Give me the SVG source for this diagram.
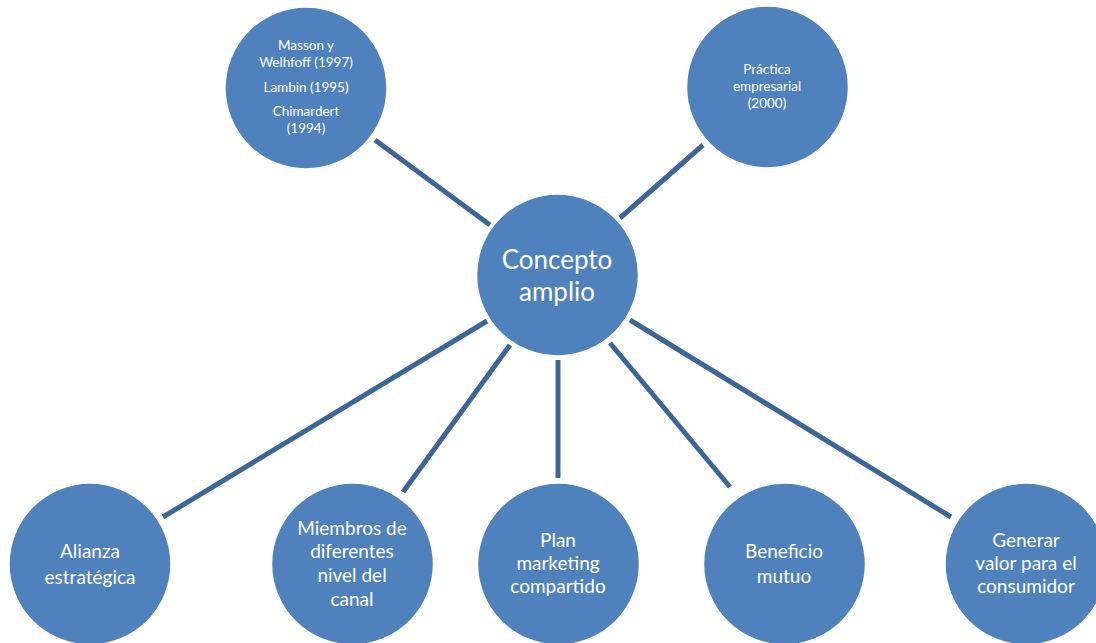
<svg xmlns="http://www.w3.org/2000/svg" width="1096" height="643" viewBox="0 0 1096 643">
<style>
.n{fill:#4f81bd;stroke:#ffffff;stroke-width:1.5}
.c line{stroke:#3d6596;stroke-width:5}
text{font-family:Lato,"Open Sans","Liberation Sans",sans-serif;fill:#ffffff;text-anchor:middle}
.s{font-size:13.5px}
.m{font-size:19px}
.l{font-size:26px}
</style>
<rect width="1096" height="643" fill="#ffffff"/>
<g class="c" id="connectors">
<line x1="375" y1="140" x2="490" y2="225"/>
<line x1="703" y1="145" x2="620" y2="218"/>
<line x1="163" y1="517" x2="487" y2="321"/>
<line x1="403" y1="492" x2="510" y2="345"/>
<line x1="558" y1="478" x2="558" y2="360"/>
<line x1="730" y1="487" x2="610" y2="343"/>
<line x1="951" y1="517" x2="630" y2="320"/>
</g>
<g id="n-top-left"><circle class="n" cx="306" cy="88" r="81"/>
<text class="s"><tspan x="306" y="50">Masson y</tspan><tspan x="306" y="67">Welhfoff (1997)</tspan><tspan x="306" y="92">Lambin (1995)</tspan><tspan x="306" y="116">Chimardert</tspan><tspan x="306" y="133">(1994)</tspan></text></g>
<g id="n-top-right"><circle class="n" cx="767.5" cy="87" r="81"/>
<text class="s"><tspan x="767" y="74">Práctica</tspan><tspan x="767" y="91">empresarial</tspan><tspan x="767" y="108">(2000)</tspan></text></g>
<g id="n-center"><circle class="n" cx="557.5" cy="275" r="81"/>
<text class="l"><tspan x="557" y="269">Concepto</tspan><tspan x="557" y="301">amplio</tspan></text></g>
<g id="n-alianza"><circle class="n" cx="90" cy="564" r="81"/>
<text class="m"><tspan x="90" y="558">Alianza</tspan><tspan x="90" y="584">estratégica</tspan></text></g>
<g id="n-miembros"><circle class="n" cx="352.5" cy="564" r="81"/>
<text class="m"><tspan x="352" y="535">Miembros de</tspan><tspan x="352" y="558">diferentes</tspan><tspan x="352" y="582">nivel del</tspan><tspan x="352" y="606">canal</tspan></text></g>
<g id="n-plan"><circle class="n" cx="558.5" cy="564" r="81"/>
<text class="m"><tspan x="558" y="547">Plan</tspan><tspan x="558" y="570">marketing</tspan><tspan x="558" y="593">compartido</tspan></text></g>
<g id="n-beneficio"><circle class="n" cx="784.5" cy="564" r="81"/>
<text class="m"><tspan x="784" y="558">Beneficio</tspan><tspan x="784" y="583">mutuo</tspan></text></g>
<g id="n-generar"><circle class="n" cx="1026" cy="564" r="81"/>
<text class="m"><tspan x="1026" y="547">Generar</tspan><tspan x="1026" y="570">valor para el</tspan><tspan x="1026" y="593">consumidor</tspan></text></g>
</svg>
